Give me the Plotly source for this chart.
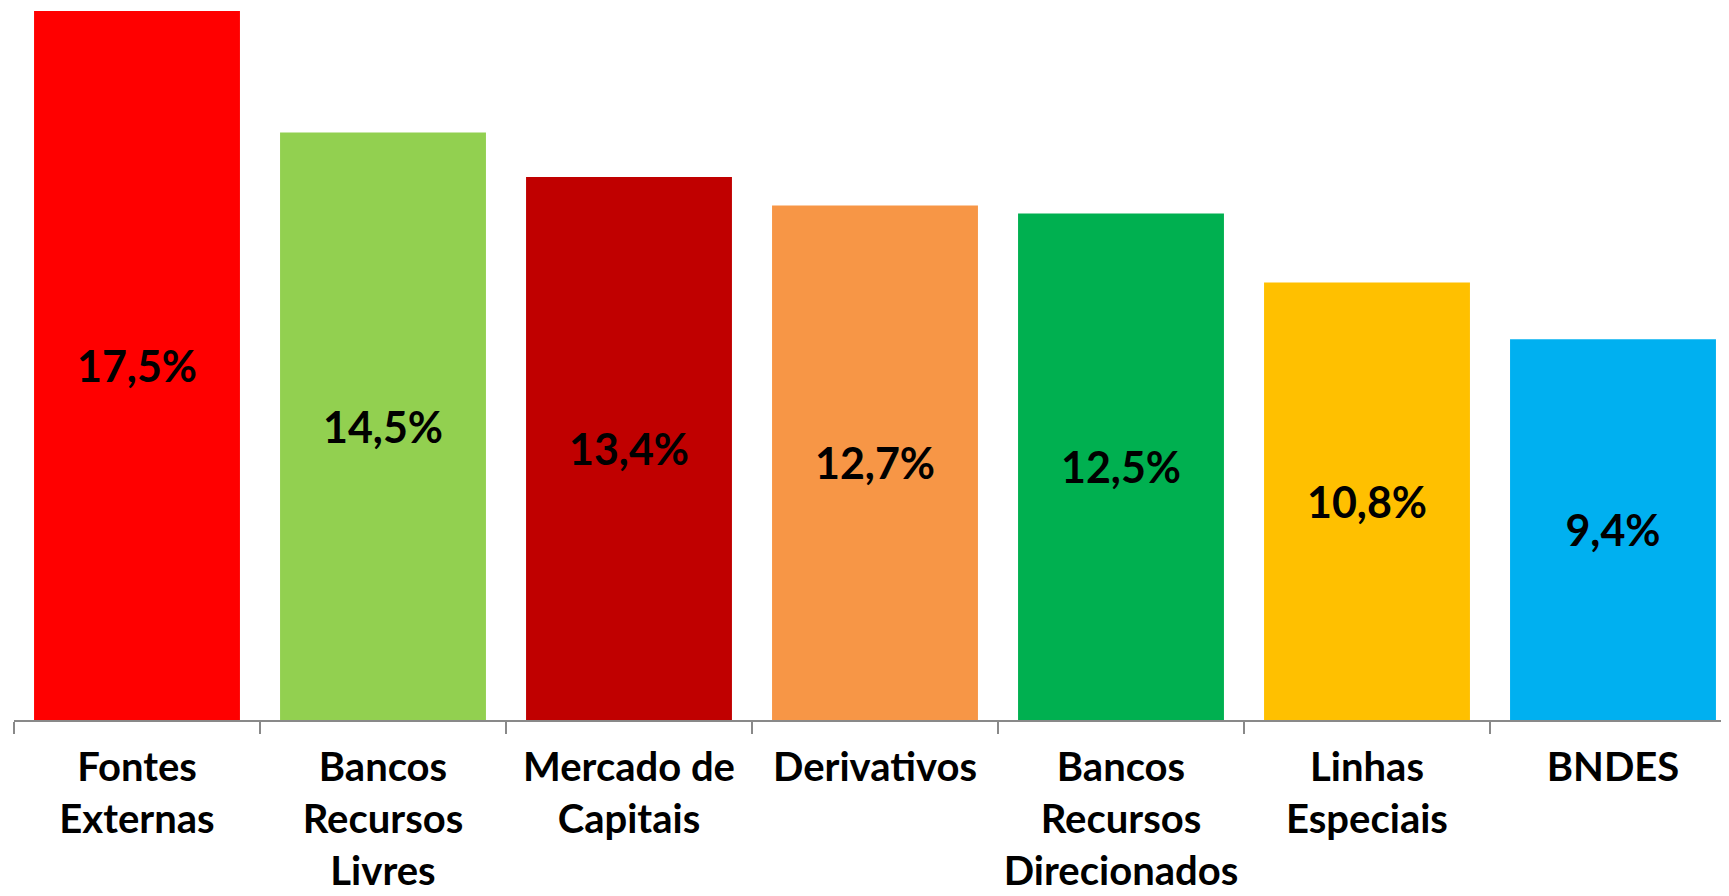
import plotly.graph_objects as go

categories = ["Fontes<br>Externas", "Bancos<br>Recursos<br>Livres", "Mercado de<br>Capitais",
              "Derivativos", "Bancos<br>Recursos<br>Direcionados", "Linhas<br>Especiais", "BNDES"]
values = [17.5, 14.5, 13.4, 12.7, 12.5, 10.8, 9.4]
colors = ["#FF0000", "#92D050", "#C00000", "#F79646", "#00B050", "#FFC000", "#00B0F0"]

fig = go.Figure(go.Bar(
    x=categories,
    y=values,
    marker=dict(color=colors, line=dict(width=0)),
    width=0.837,
    texttemplate="%{y:.1f}%",
    textposition="inside",
    insidetextanchor="middle",
    textangle=0,
    textfont=dict(family="Lato", size=43, color="black", weight="bold"),
    hoverinfo="skip",
))

fig.update_layout(
    width=1729, height=896,
    margin=dict(l=6, r=0, t=3, b=184),
    paper_bgcolor="white", plot_bgcolor="white",
    separators=",.",
    showlegend=False,
    xaxis=dict(
        type="category",
        range=[-0.5, -0.5 + 1723 / 246],
        showline=True, linecolor="#898989", linewidth=2,
        ticks="outside", tickson="boundaries", ticklen=12, tickwidth=2, tickcolor="#898989",
        tickangle=0,
        tickfont=dict(family="Lato", size=40, color="black", weight="bold"),
        ticklabelstandoff=11,
        showgrid=False, zeroline=False, fixedrange=True, automargin=False,
    ),
    yaxis=dict(range=[0, 17.5], visible=False, showgrid=False, zeroline=False),
)

fig.write_html("out.html")
